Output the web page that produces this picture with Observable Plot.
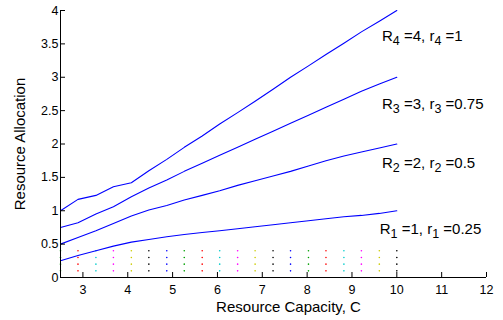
<!DOCTYPE html>
<html>
<head>
<meta charset="utf-8">
<script src="https://cdn.jsdelivr.net/npm/d3@7"></script>
<script src="https://cdn.jsdelivr.net/npm/@observablehq/plot@0.6"></script>
<style>
  html, body { margin: 0; padding: 0; background: #fff; }
  #chart svg { display: block; }
</style>
</head>
<body>
<div id="chart"></div>
<script>
// Resource capacity C (x positions of samples)
const capacity = [2.5, 2.89, 3.29, 3.68, 4.08, 4.47, 4.87, 5.26, 5.66, 6.05,
                  6.45, 6.84, 7.24, 7.63, 8.03, 8.42, 8.82, 9.21, 9.61, 10];
// Allocation series
const alloc4 = [1.00, 1.17, 1.23, 1.36, 1.42, 1.60, 1.77, 1.95, 2.12, 2.30,
                2.47, 2.64, 2.82, 3.00, 3.17, 3.34, 3.51, 3.68, 3.84, 4.00];
const alloc3 = [0.75, 0.82, 0.95, 1.06, 1.21, 1.34, 1.46, 1.59, 1.71, 1.83,
                1.95, 2.07, 2.19, 2.31, 2.43, 2.55, 2.67, 2.79, 2.90, 3.00];
const alloc2 = [0.50, 0.60, 0.70, 0.81, 0.92, 1.01, 1.08, 1.16, 1.23, 1.30,
                1.38, 1.45, 1.52, 1.59, 1.67, 1.75, 1.82, 1.88, 1.94, 2.00];
const alloc1 = [0.25, 0.33, 0.40, 0.47, 0.53, 0.57, 0.61, 0.645, 0.675, 0.70,
                0.73, 0.76, 0.79, 0.82, 0.85, 0.88, 0.91, 0.93, 0.96, 1.00];
// Dot marker rows
const dotLevels = [0.1, 0.2, 0.3, 0.4];
const dotColors = ["#00a000", "#ff0000", "#00cccc", "#ff00ff", "#cccc00", "#000000", "#0000ff"];
// Annotation labels
const labelTexts = ["R_4 =4, r_4 =1", "R_3 =3, r_3 =0.75", "R_2 =2, r_2 =0.5", "R_1 =1, r_1 =0.25"];
const labelY = [3.61, 2.59, 1.71, 0.72];
const labelX = [9.67, 9.67, 9.67, 9.62];
// Axis ticks
const xTicks = [3, 4, 5, 6, 7, 8, 9, 10, 11, 12];
const yTicks = [0, 0.5, 1, 1.5, 2, 2.5, 3, 3.5, 4];

const series = [alloc1, alloc2, alloc3, alloc4];
const lineData = series.flatMap((s, k) => s.map((v, i) => ({c: capacity[i], v, k})));
const dotData = capacity.flatMap((c, i) => dotLevels.map(l => ({c, l, color: dotColors[i % dotColors.length]})));
const labelData = labelTexts.map((t, i) => ({t, x: labelX[i], y: labelY[i]}));

const font = "'Liberation Sans', Arial, Helvetica, sans-serif";

const chart = Plot.plot({
  width: 503,
  height: 320,
  marginLeft: 60,
  marginRight: 17,
  marginTop: 10,
  marginBottom: 43,
  style: {fontFamily: font, background: "#fff", color: "#000"},
  x: {domain: [2.5, 12], label: null},
  y: {domain: [0, 4], label: null},
  marks: [
    Plot.dot(dotData, {x: "c", y: "l", r: 0.8, fill: d => d.color, stroke: null}),
    Plot.line(lineData, {x: "c", y: "v", z: "k", stroke: "#0000ff", strokeWidth: 1.1}),
    Plot.ruleY([0], {stroke: "#000"}),
    Plot.ruleX([2.5], {stroke: "#000"}),
    Plot.axisX(xTicks, {tickSize: -5, tickPadding: 13, fontSize: 12.5, stroke: "#000", fill: "#000", tickFormat: d => String(d), label: null}),
    Plot.axisY(yTicks, {tickSize: -5, tickPadding: 7, fontSize: 12.5, stroke: "#000", fill: "#000", tickFormat: d => String(d), label: null}),
    Plot.text(["Resource Capacity, C"], {frameAnchor: "bottom", dx: 15, dy: 30, fontSize: 15, fill: "#000", lineAnchor: "middle", textAnchor: "middle"}),
    Plot.text(["Resource Allocation"], {frameAnchor: "left", dx: -40, rotate: -90, fontSize: 15, fill: "#000", lineAnchor: "middle", textAnchor: "middle"}),
    Plot.text(labelData, {x: "x", y: "y", text: "t", textAnchor: "start", lineAnchor: "middle", fontSize: 15, fill: "#000"})
  ]
});

// Render "_d" as subscripts
d3.select(chart).selectAll("text").each(function() {
  const el = this;
  const s = el.textContent;
  if (!s.includes("_")) return;
  const parts = s.split(/_(\d)/);
  el.textContent = "";
  parts.forEach((p, i) => {
    if (!p) return;
    const ts = document.createElementNS("http://www.w3.org/2000/svg", "tspan");
    ts.textContent = p;
    if (i % 2 === 1) {
      ts.setAttribute("font-size", "12.5");
      ts.setAttribute("dy", "4");
    } else if (i > 0) {
      ts.setAttribute("dy", "-4");
    }
    el.appendChild(ts);
  });
});

document.getElementById("chart").appendChild(chart);
</script>
</body>
</html>
